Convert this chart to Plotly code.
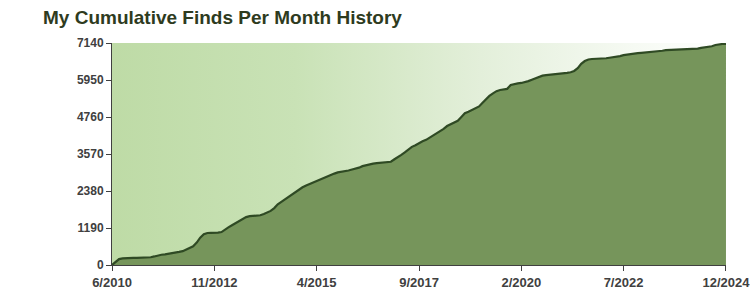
import pandas as pd
import plotly.graph_objects as go

# ---- data ----
start_month = "2010-06-01"
cumulative_finds = [
    0, 110, 190, 215, 225, 228, 230, 232, 233, 235,
    240, 250, 275, 305, 330, 340, 355, 380, 400, 420,
    445, 490, 540, 600, 720, 880, 990, 1030, 1035, 1035,
    1040, 1060, 1150, 1210, 1280, 1340, 1410, 1480, 1540, 1570,
    1575, 1580, 1600, 1640, 1690, 1740, 1830, 1950, 2030, 2110,
    2190, 2260, 2330, 2410, 2500, 2560, 2610, 2660, 2700, 2750,
    2810, 2860, 2900, 2940, 2980, 2995, 3010, 3040, 3070, 3090,
    3130, 3180, 3210, 3240, 3260, 3275, 3285, 3295, 3305, 3320,
    3400, 3480, 3540, 3620, 3700, 3800, 3850, 3920, 3980, 4025,
    4090, 4170, 4240, 4290, 4380, 4470, 4520, 4590, 4640, 4760,
    4880, 4930, 4980, 5040, 5100, 5210, 5330, 5440, 5520, 5590,
    5630, 5650, 5665, 5790, 5820, 5840, 5855, 5880, 5915, 5960,
    6010, 6060, 6090, 6105, 6115, 6125, 6135, 6145, 6160, 6180,
    6200, 6240, 6330, 6470, 6560, 6610, 6625, 6628, 6630, 6635,
    6650, 6665, 6680, 6690, 6720, 6750, 6770, 6790, 6805, 6815,
    6825, 6835, 6840, 6845, 6852, 6870, 6890, 6910, 6915, 6918,
    6920, 6922, 6925, 6930, 6940, 6948, 6960, 6985, 7000, 7010,
    7035, 7075, 7100, 7110, 7115,
]
x_tick_dates = ["2010-06-01", "2012-11-01", "2015-04-01", "2017-09-01",
                "2020-02-01", "2022-07-01", "2024-12-01"]
x_tick_labels = ["6/2010", "11/2012", "4/2015", "9/2017", "2/2020", "7/2022", "12/2024"]
y_ticks = [0, 1190, 2380, 3570, 4760, 5950, 7140]

months = pd.date_range(start_month, periods=len(cumulative_finds), freq="MS")
y_top = y_ticks[-1]

fig = go.Figure()

# gradient background band covering the plotting range
fig.add_trace(go.Scatter(
    x=months, y=[y_top] * len(months),
    mode="lines", line=dict(width=0),
    fill="tozeroy",
    fillgradient=dict(type="horizontal",
                      colorscale=[[0, "#BEDBA6"], [0.3, "#C9E2B6"],
                                  [0.6, "#E3EFDA"], [0.85, "#F6FAF3"], [1, "#FFFFFF"]]),
    hoverinfo="skip", showlegend=False,
))

fig.add_trace(go.Scatter(
    x=months, y=cumulative_finds,
    mode="lines",
    line=dict(color="#2F4A24", width=2.2),
    fill="tozeroy", fillcolor="#76955B",
    showlegend=False,
))

tick_font = dict(family="Liberation Sans, Arial, sans-serif", color="#404040")

fig.update_layout(
    width=750, height=303,
    margin=dict(l=112, r=24, t=43, b=38, autoexpand=False),
    paper_bgcolor="white", plot_bgcolor="white",
    title=dict(text="<b>My Cumulative Finds Per Month History</b>",
               x=43 / 750, xanchor="left", y=1 - 17 / 303, yanchor="middle",
               font=dict(family="Liberation Sans, Arial, sans-serif", size=19, color="#2E3B1E")),
    font=dict(family="Liberation Sans, Arial, sans-serif", color="#404040"),
)
fig.update_xaxes(
    type="date", automargin=False,
    range=[months[0], months[-1] + pd.Timedelta(hours=6)],
    tickvals=pd.to_datetime(x_tick_dates), ticktext=[f"<b>{t}</b>" for t in x_tick_labels],
    ticklabeloverflow="allow",
    showgrid=False, zeroline=False,
    showline=True, linecolor="#404040", linewidth=1,
    ticks="outside", ticklen=5, tickcolor="#404040",
    tickfont=dict(tick_font, size=13),
)
fig.update_yaxes(
    range=[0, y_top], automargin=False,
    tickvals=y_ticks, ticktext=[f"<b>{v}</b>" for v in y_ticks],
    showgrid=False, zeroline=False,
    showline=True, linecolor="#404040", linewidth=1,
    ticks="outside", ticklen=5, tickcolor="#404040",
    tickfont=dict(tick_font, size=12),
)

fig.write_html("out.html")
